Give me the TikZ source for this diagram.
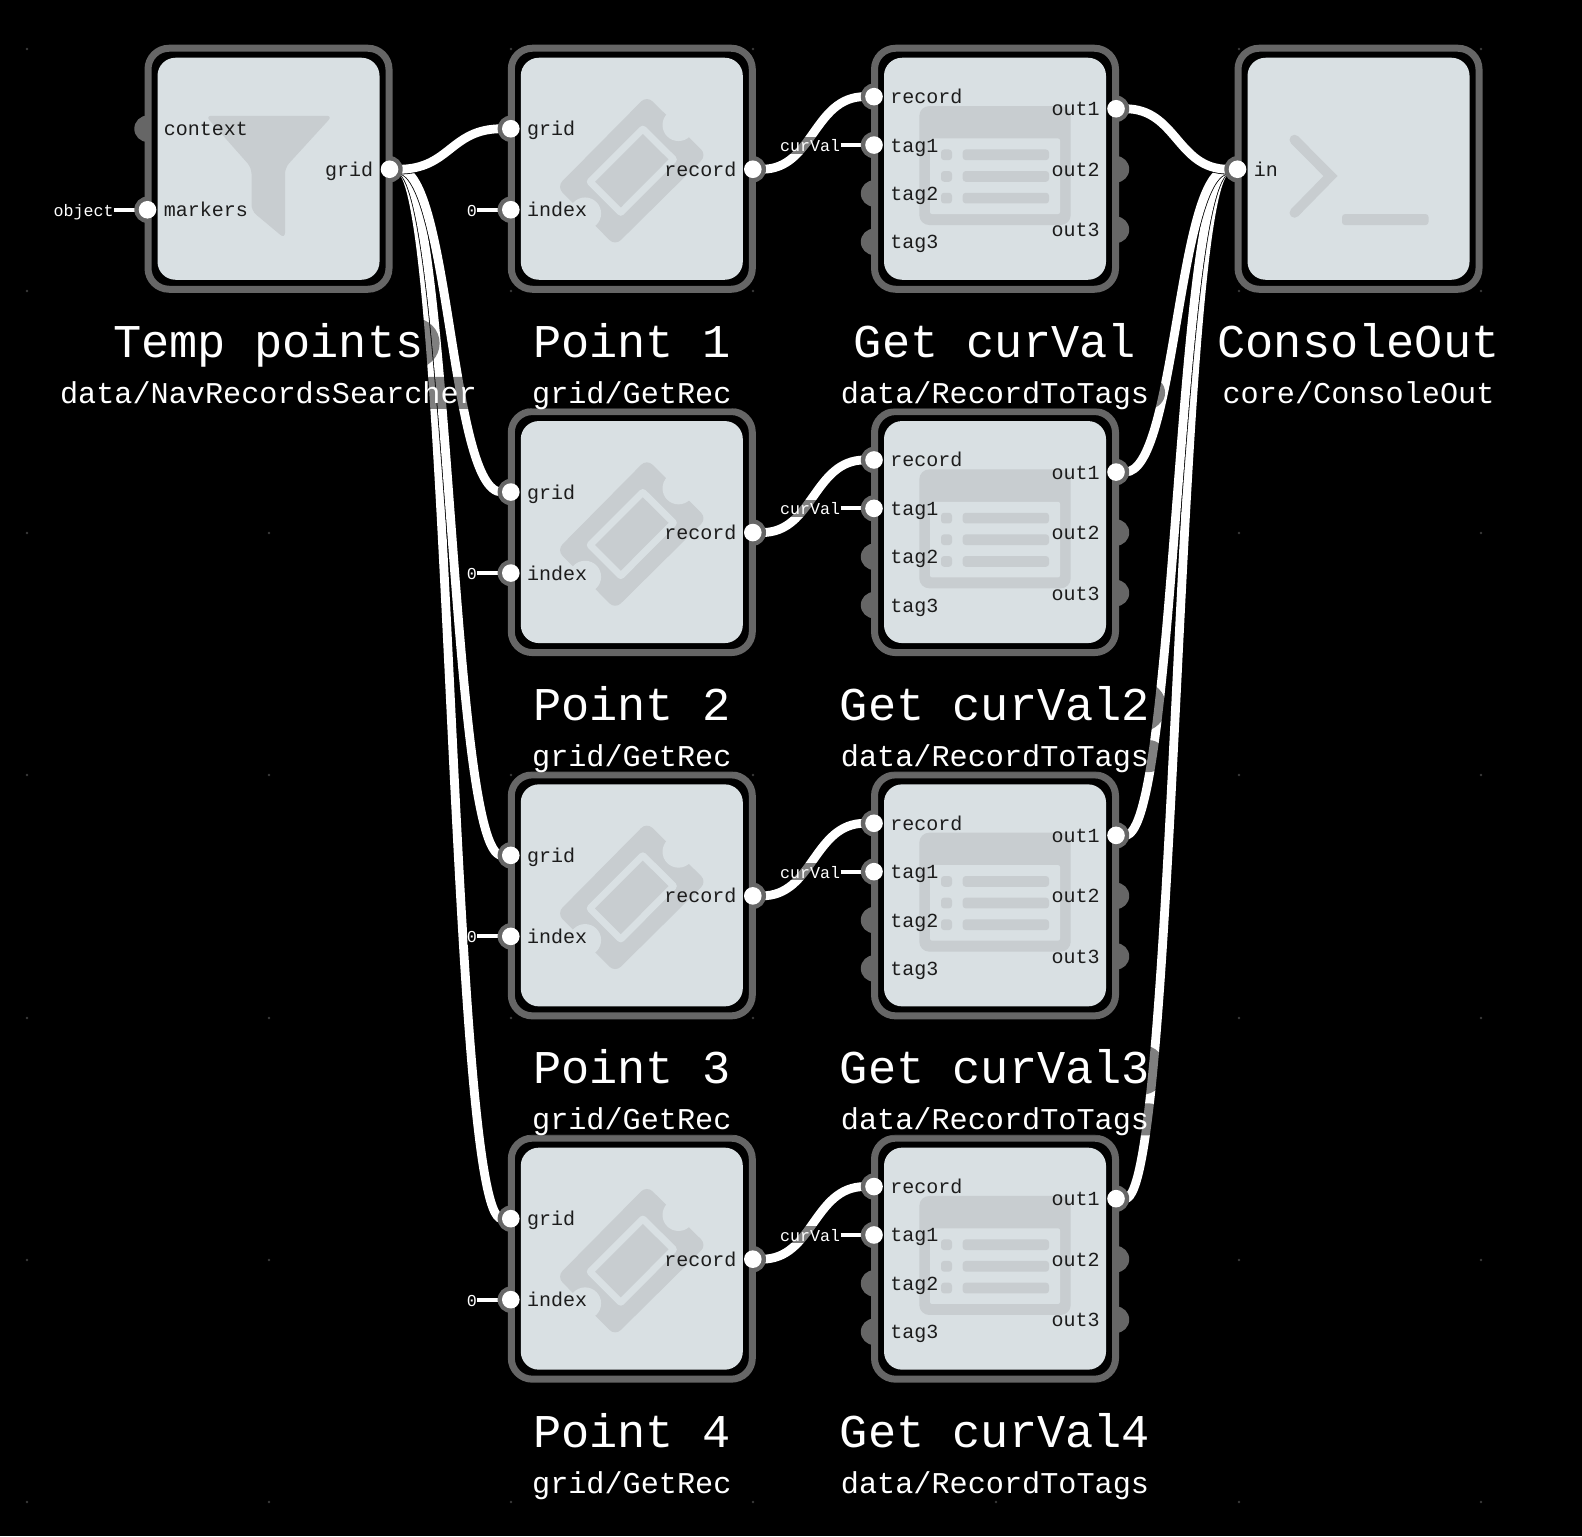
\documentclass[tikz,border=0pt]{standalone}
\usepackage{fontspec}
\setmonofont{Liberation Mono}
\usepackage{tikz}
\usetikzlibrary{calc}
\pgfdeclarelayer{wirelayer}
\pgfdeclarelayer{ringlayer}
\pgfdeclarelayer{blocklayer}
\pgfsetlayers{wirelayer,ringlayer,blocklayer,main}
\definecolor{rimgray}{HTML}{666666}
\definecolor{facegray}{HTML}{D9E0E3}
\definecolor{icongray}{HTML}{C8CDD0}
\definecolor{griddot}{HTML}{3A3A3A}
\definecolor{inkgray}{HTML}{1C1C1C}
\newcommand{\addport}[6]{%
  \begin{pgfonlayer}{ringlayer}
    \node (#1-#2-ring) at ($(#1)+(#3,#4+0.5)$) [ringdecorate] {};
  \end{pgfonlayer}
  \node (#1-#2) at ($(#1)+(#3,#4+0.5)$) [#6] {};
  \node (#1-#2-label) at (#1-#2.center) [#5] {#2};
}
\begin{document}
\begin{tikzpicture}
[x=0.5pt,y=-0.5pt,
  blockdecorate/.style={shape=rectangle,inner sep=0pt,minimum size=120.5pt,
    rounded corners=10.5pt,draw=rimgray,line width=3.5pt,fill=black},%
  facedecorate/.style={shape=rectangle,inner sep=0pt,minimum size=111pt,
    rounded corners=9pt,fill=facegray},%
  ringdecorate/.style={shape=circle,inner sep=0pt,minimum size=13.2pt,fill=rimgray},%
  portdecorate/.style={shape=circle,inner sep=0pt,minimum size=8.8pt,fill=white},%
  opendecorate/.style={shape=circle,inner sep=0pt,minimum size=8.8pt},%
  labeltext/.style={inner sep=0pt,text=inkgray,text height=7pt,text depth=0pt,
    font=\ttfamily\fontsize{10}{12}\selectfont},%
  labelright/.style={labeltext,anchor=west,xshift=8pt},%
  labelleft/.style={labeltext,anchor=east,xshift=-8pt},%
  titledecorate/.style={shape=rectangle,inner xsep=8pt,inner ysep=5.5pt,rounded corners=12.5pt,
    fill=black,fill opacity=.5,text=white,text opacity=1,text height=14pt,text depth=0pt,
    font=\ttfamily\fontsize{23.5}{26}\selectfont},%
  subdecorate/.style={titledecorate,inner ysep=2.75pt,rounded corners=8pt,
    text height=10.5pt,font=\ttfamily\fontsize{15.1}{18}\selectfont},%
  iipdecorate/.style={shape=rectangle,anchor=east,inner xsep=0pt,inner ysep=.95pt,
    fill=black,fill opacity=.5,text=white,text opacity=1,text height=6.6pt,text depth=0pt,
    font=\ttfamily\fontsize{8.33}{10}\selectfont},%
  iipline/.style={-,draw=white,line width=2pt},%
  linedecorate/.style={-,draw=black,double=white,line width=.4pt,double distance=4.4pt,
    to path={.. controls ($(\tikztostart)!.5!(\tikztotarget |- \tikztostart)$)
      and ($(\tikztotarget)!.5!(\tikztostart |- \tikztotarget)$) .. (\tikztotarget)}}]
\useasboundingbox (0,0) rectangle (1582,1536);
\begin{pgfonlayer}{wirelayer}
  \fill[black] (0,0) rectangle (1582,1536);
  \foreach \x in {27,269,511,753,996,1239,1481}
    \foreach \y in {49,291,533,775,1018,1260,1502}
      \fill[griddot] (\x,\y) circle (1.4);
\end{pgfonlayer}
%% blocks and their captions
\foreach \nodename/\x/\y/\title/\subtitle in {temp/268.5/168.75/{Temp points}/{data/NavRecordsSearcher},
  point1/631.8/168.75/{Point 1}/{grid/GetRec}, point2/631.8/532.05/{Point 2}/{grid/GetRec},
  point3/631.8/895.35/{Point 3}/{grid/GetRec}, point4/631.8/1258.65/{Point 4}/{grid/GetRec},
  get1/995/168.75/{Get curVal}/{data/RecordToTags}, get2/995/532.05/{Get curVal2}/{data/RecordToTags},
  get3/995/895.35/{Get curVal3}/{data/RecordToTags}, get4/995/1258.65/{Get curVal4}/{data/RecordToTags},
  console/1358.5/168.75/{ConsoleOut}/{core/ConsoleOut}}
{
  \begin{pgfonlayer}{blocklayer}
    \node (\nodename) at (\x,\y) [blockdecorate] {};
    \node (\nodename-face) at (\x,\y) [facedecorate] {};
  \end{pgfonlayer}
  \node (\nodename-title) at ($(\x,\y)+(0,174.5)$) [titledecorate] {\title};
  \node (\nodename-sub) at ($(\x,\y)+(0,224)$) [subdecorate] {\subtitle};
}
%% icons
\begin{pgfonlayer}{blocklayer}
  \fill[icongray,rounded corners=3pt,shift={(temp)}] (-63,-53) -- (64,-53) -- (16.5,-1) -- (16.5,70)
    -- (-17,42) -- (-17,-1) -- cycle;
  \foreach \nodename in {point1,point2,point3,point4}
  {
    \begin{scope}[shift={(\nodename)}]
      \fill[icongray,rounded corners=4pt] (15,-73) -- (75,-13.7) -- (-16.7,77) -- (-75,18) -- cycle;
      \fill[facegray] (46.7,-43.7) circle (16) (-46.7,44.7) circle (16);
      \fill[facegray,rounded corners=2pt] (11,-44.7) -- (46.7,-9.3) -- (-11,48.7) -- (-46.7,13) -- cycle;
      \fill[icongray] (11,-34.7) -- (36.7,-9.3) -- (-11,38.7) -- (-36.7,13) -- cycle;
    \end{scope}
  }
  \foreach \nodename in {get1,get2,get3,get4}
  {
    \begin{scope}[shift={(\nodename)}]
      \fill[icongray,rounded corners=5pt] (-75.7,-62.7) rectangle (75.7,56.3);
      \fill[facegray,rounded corners=1pt] (-65,-30.3) rectangle (65,45.3);
      \foreach \y in {-19.3,2.3,24}
      {
        \fill[icongray,rounded corners=1.5pt] (-54,\y) rectangle (-43,\y+10.7);
        \fill[icongray,rounded corners=1.5pt] (-32.3,\y) rectangle (54,\y+10.7);
      }
    \end{scope}
  }
  \begin{scope}[shift={(console)}]
    \draw[icongray,line width=5pt,line join=miter,line cap=round] (-64,-29) -- (-28,7.3) -- (-64,44);
    \fill[icongray,rounded corners=1.5pt] (-16.5,45.3) rectangle (70,56.3);
  \end{scope}
\end{pgfonlayer}
%% ports
\addport{temp}{context}{-121}{-40.5}{labelright}{opendecorate}
\addport{temp}{markers}{-121}{40.5}{labelright}{portdecorate}
\addport{temp}{grid}{121}{0}{labelleft}{portdecorate}
\foreach \nodename in {point1,point2,point3,point4}
{
  \addport{\nodename}{grid}{-121}{-40.5}{labelright}{portdecorate}
  \addport{\nodename}{index}{-121}{40.5}{labelright}{portdecorate}
  \addport{\nodename}{record}{121}{0}{labelleft}{portdecorate}
}
\foreach \nodename in {get1,get2,get3,get4}
{
  \addport{\nodename}{record}{-121}{-72.6}{labelright}{portdecorate}
  \addport{\nodename}{tag1}{-121}{-24.2}{labelright}{portdecorate}
  \addport{\nodename}{tag2}{-121}{24.2}{labelright}{opendecorate}
  \addport{\nodename}{tag3}{-121}{72.6}{labelright}{opendecorate}
  \addport{\nodename}{out1}{121}{-60.5}{labelleft}{portdecorate}
  \addport{\nodename}{out2}{121}{0}{labelleft}{opendecorate}
  \addport{\nodename}{out3}{121}{60.5}{labelleft}{opendecorate}
}
\addport{console}{in}{-121}{0}{labelright}{portdecorate}
%% initial values
\node (object) at ($(temp-markers)+(-33.5,0)$) [iipdecorate] {object};
\foreach \nodename in {point1,point2,point3,point4}
  \node (\nodename-zero) at ($(\nodename-index)+(-33.5,0)$) [iipdecorate] {0};
\foreach \nodename in {get1,get2,get3,get4}
  \node (\nodename-curval) at ($(\nodename-tag1)+(-33.5,0)$) [iipdecorate] {curVal};
%% edges
\begin{pgfonlayer}{wirelayer}
  \path
  \foreach \startnode/\endnode in {object/temp-markers, point1-zero/point1-index, point2-zero/point2-index,
    point3-zero/point3-index, point4-zero/point4-index, get1-curval/get1-tag1, get2-curval/get2-tag1,
    get3-curval/get3-tag1, get4-curval/get4-tag1}
  {
    (\startnode) edge[iipline] (\endnode)
  };
  \path
  \foreach \startnode/\endnode in {temp-grid/point4-grid, temp-grid/point3-grid, temp-grid/point2-grid,
    temp-grid/point1-grid, point1-record/get1-record, point2-record/get2-record, point3-record/get3-record,
    point4-record/get4-record, get4-out1/console-in, get3-out1/console-in, get2-out1/console-in,
    get1-out1/console-in}
  {
    (\startnode) edge[linedecorate] (\endnode)
  };
\end{pgfonlayer}
\end{tikzpicture}
\end{document}
